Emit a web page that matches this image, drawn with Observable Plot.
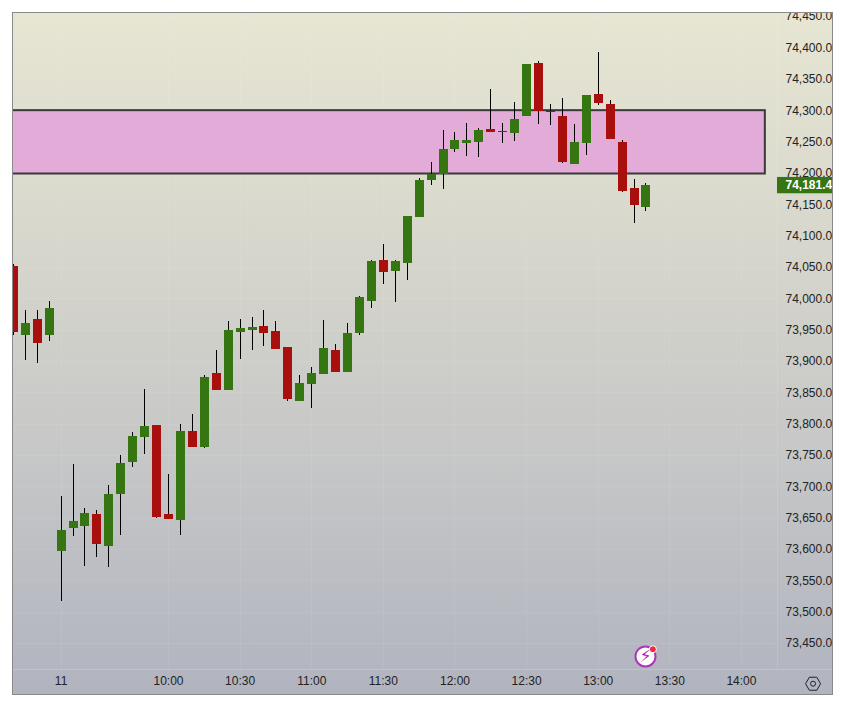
<!DOCTYPE html>
<html>
<head>
<meta charset="utf-8">
<script src="https://cdn.jsdelivr.net/npm/d3@7"></script>
<script src="https://cdn.jsdelivr.net/npm/@observablehq/plot@0.6"></script>
<style>
html,body{margin:0;padding:0;background:#fff;}
#panel{position:absolute;left:12px;top:12px;width:819px;height:681px;border:1px solid #8a8a8a;overflow:hidden;
background:linear-gradient(180deg,#e7e6d3 0%,#d6d6cc 35%,#c6c7c7 65%,#b1b4bf 100%);}
#panel svg{position:absolute;left:-13px;top:-13px;width:842px;height:704px;max-width:none !important;}
</style>
</head>
<body>
<div id="panel"></div>
<script>
const firstMinute = 535;
const stepMinutes = 5;
const open = [74052,73942,73967,73942,73597,73634,73637,73656,73605,73688,73739,73779,73798,73656,73646,73788,73763,73881,73854,73946,73949,73956,73948,73922,73836,73863,73879,73917,73883,73945,73996,74061,74043,74056,74130,74189,74198,74238,74248,74249,74270,74267,74264,74291,74375,74299,74291,74214,74248,74326,74310,74249,74176,74146];
const high = [74055,73981,73981,73996,73685,73736,73665,73662,73702,73750,73787,73855,73798,73720,73799,73815,73878,73917,73964,73967,73970,73981,73964,73922,73878,73890,73965,73927,73961,74004,74061,74087,74061,74131,74192,74217,74268,74265,74280,74272,74334,74280,74313,74374,74378,74310,74319,74278,74324,74393,74316,74252,74190,74184];
const low = [73942,73902,73897,73932,73517,73621,73573,73587,73571,73622,73731,73752,73650,73648,73622,73763,73761,73854,73854,73903,73917,73924,73919,73836,73836,73825,73879,73882,73883,73942,73985,74023,73994,74029,74130,74181,74174,74233,74227,74225,74265,74248,74251,74291,74278,74276,74216,74214,74229,74308,74254,74169,74120,74139];
const close = [73946,73961,73929,73985,73630,73645,73658,73608,73688,73737,73780,73796,73651,73648,73788,73763,73875,73854,73949,73953,73954,73945,73919,73839,73865,73881,73921,73883,73945,74002,74060,74042,74060,74131,74189,74198,74238,74252,74252,74268,74265,74265,74286,74374,74299,74297,74217,74249,74324,74311,74254,74171,74149,74181.4];

const priceTicks = [74450,74400,74350,74300,74250,74200,74150,74100,74050,74000,73950,73900,73850,73800,73750,73700,73650,73600,73550,73500,73450];
const timeTicks = [555,600,630,660,690,720,750,780,810,840];
const timeLabels = ["11","10:00","10:30","11:00","11:30","12:00","12:30","13:00","13:30","14:00"];

const zone = [{start:500,end:850,top:74300,bottom:74199}];
const lastPrice = 74181.4;
const badge = [{x1:855.1,x2:900,y1:74193.5,y2:74167.5}];
const boltIcon = [{t:799.8,p:73429.5}];
const boltBadge = [{t:802.9,p:73441}];
const settingsIcon = [{t:870,p:73386}];

const GREEN = "#367612", RED = "#a90f0c";
const font = "'Liberation Sans', sans-serif";

const candles = open.map((o,i)=>({t:firstMinute+i*stepMinutes,o,h:high[i],l:low[i],c:close[i]}));
const fmtPrice = d3.format(",.1f");

const chart = Plot.plot({
  width:842,height:704,
  marginLeft:13,marginRight:65,marginTop:13,marginBottom:35,
  style:{background:"transparent",overflow:"visible",fontFamily:font,fontSize:"12px",color:"#222"},
  x:{domain:[535.07,855.1],label:null},
  y:{domain:[73408.7,74455],label:null},
  marks:[
    Plot.ruleY(priceTicks,{stroke:"#fff",strokeOpacity:0.07,shapeRendering:"crispEdges"}),
    Plot.ruleX(timeTicks,{stroke:"#fff",strokeOpacity:0.07,shapeRendering:"crispEdges"}),
    Plot.ruleX([855.1],{stroke:"#fff",strokeOpacity:0.12,y1:73408.7,y2:74455,shapeRendering:"crispEdges"}),
    Plot.ruleY([73408.7],{stroke:"#fff",strokeOpacity:0.18,x1:500,x2:940,clip:false,shapeRendering:"crispEdges"}),
    Plot.rect(zone,{x1:"start",x2:"end",y1:"bottom",y2:"top",fill:"#e3acd8",stroke:"#3a383a",strokeWidth:2,clip:true}),
    Plot.ruleX(candles,{x:"t",y1:"l",y2:"h",stroke:"#000",strokeWidth:1,clip:true,shapeRendering:"crispEdges"}),
    Plot.ruleX(candles,{x:"t",y1:"o",y2:"c",stroke:d=>d.c>=d.o?GREEN:RED,strokeWidth:9,clip:true,shapeRendering:"crispEdges"}),
    Plot.axisY({anchor:"right",ticks:priceTicks,tickSize:0,tickPadding:8,tickFormat:fmtPrice,label:null,fontSize:12,fill:"#222"}),
    Plot.axisX({anchor:"bottom",ticks:timeTicks,tickSize:0,tickPadding:7,tickFormat:d=>timeLabels[timeTicks.indexOf(d)],label:null,fontSize:12,fill:"#222"}),
    Plot.rect(badge,{x1:"x1",x2:"x2",y1:"y1",y2:"y2",fill:GREEN,clip:false}),
    Plot.text([lastPrice],{x:855.1,y:d=>d,text:fmtPrice,dx:8,textAnchor:"start",fill:"#fff",fontWeight:"bold",fontSize:12,clip:false}),
    Plot.dot(boltIcon,{x:"t",y:"p",r:10,fill:"#fff",stroke:"#a838b8",strokeWidth:2}),
    Plot.text(boltIcon,{x:"t",y:"p",text:()=>"⚡",fill:"#a030b0",fontSize:18,fontFamily:"'DejaVu Sans'"}),
    Plot.dot(boltBadge,{x:"t",y:"p",r:3.5,fill:"#ee2a3c",stroke:"#fff",strokeWidth:1}),
    Plot.dot(settingsIcon,{x:"t",y:"p",symbol:"hexagon",r:6.5,rotate:90,fill:"none",stroke:"#222",strokeWidth:1,clip:false}),
    Plot.dot(settingsIcon,{x:"t",y:"p",r:2.5,fill:"none",stroke:"#222",strokeWidth:1,clip:false})
  ]
});
document.getElementById("panel").appendChild(chart);
</script>
</body>
</html>
